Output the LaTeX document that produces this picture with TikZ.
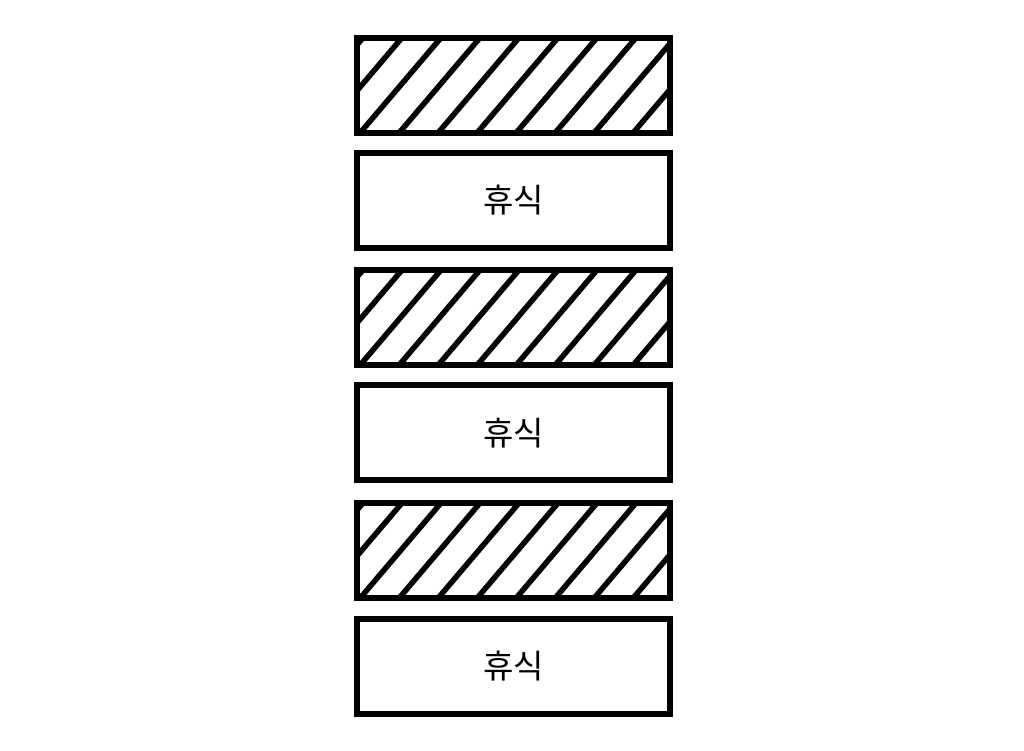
\documentclass[tikz,border=0pt]{standalone}
\usepackage{fontspec}
\newfontfamily\kr{Noto Sans CJK KR}
\tikzset{
  box/.style={draw=black, line width=6pt, minimum width=313pt, minimum height=95pt,
    inner sep=0pt, outer sep=0pt, font=\kr\fontsize{33}{40}\selectfont},
  hatched/.style={box, path picture={
    \foreach \k in {-2,...,9}{
      \draw[line width=5.5pt, line cap=butt]
        ([xshift=\k*39pt-1.25pt, yshift=-5pt]path picture bounding box.south west)
        -- ++(93.5pt,110pt);
    }}},
}
\begin{document}
\begin{tikzpicture}[x=1pt,y=-1pt]
  \useasboundingbox (0,0) rectangle (1024,751);
  \node[hatched] (w1) at (513.5,85.5) {};
  \node[box] (r1) at (513.5,200.5) {휴식};
  \node[hatched] (w2) at (513.5,317.75) {};
  \node[box] (r2) at (513.5,432.75) {휴식};
  \node[hatched] (w3) at (513.5,550.75) {};
  \node[box] (r3) at (513.5,666.5) {휴식};
\end{tikzpicture}
\end{document}
